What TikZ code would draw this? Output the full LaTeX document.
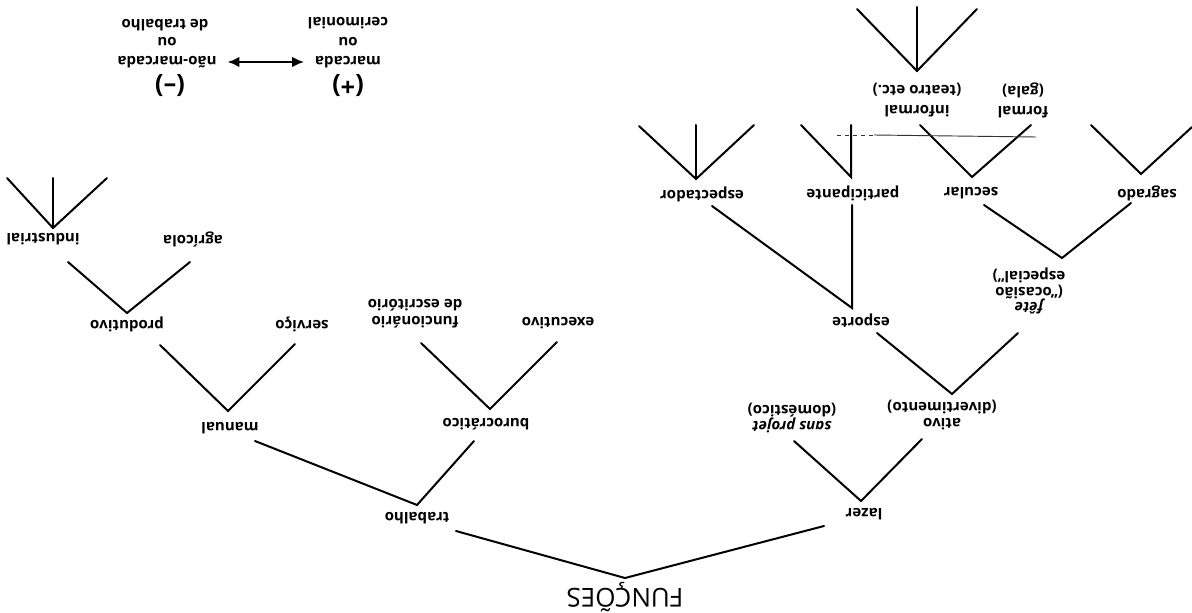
\documentclass[tikz,border=0pt]{standalone}
\usepackage{fontspec}
\setmainfont{Open Sans}
\usetikzlibrary{arrows.meta}
\begin{document}
\begin{tikzpicture}[x=0.75pt,y=-0.75pt,
  lbl/.style={rotate=180,inner sep=1pt,align=center,font=\fontsize{11.3}{11.5}\selectfont\bfseries},
  lblwide/.style={lbl,font=\fontsize{11.3}{15}\selectfont\bfseries},
  title/.style={rotate=180,inner sep=1pt,font=\fontsize{19.5}{22}\selectfont},
  sign/.style={rotate=180,inner sep=1pt,font=\fontsize{19}{21}\selectfont\bfseries},
  br/.style={line width=1.5pt,line cap=round,line join=miter},
  faint/.style={line width=0.7pt,black!80},
]
\useasboundingbox (0,0) rectangle (1192,613);

% ---------- labels ----------
\node[title] (funcoes) at (625,597) {FUNÇÕES};
\node[lbl] (trabalho) at (417,518) {trabalho};
\node[lbl] (lazer) at (864,514) {lazer};
\node[lbl] (manual) at (230,428) {manual};
\node[lbl] (burocratico) at (486,424) {burocrático};
\node[lbl] (produtivo) at (127,324) {produtivo};
\node[lbl] (servico) at (302,324) {serviço};
\node[lbl,font=\fontsize{11.3}{13}\selectfont\bfseries] (funcionario) at (415,314) {funcionário\\de escritório};
\node[lbl] (executivo) at (558,323) {executivo};
\node[lbl] (agricola) at (193,239) {agrícola};
\node[lbl] (industrial) at (43,239) {industrial};
\node[lbl] (sansprojet) at (792,418) {\itshape sans projet\\(doméstico)};
\node[lbl] (ativo) at (942,415) {ativo\\(divertimento)};
\node[lbl] (esporte) at (861,321) {esporte};
\node[lbl] (fete) at (1029,291) {\itshape fête\\(“ocasião\\especial”)};
\node[lbl] (espectador) at (702,194) {espectador};
\node[lbl] (participante) at (853,193) {participante};
\node[lbl] (secular) at (971,193) {secular};
\node[lbl] (sagrado) at (1147,193) {sagrado};
\node[lblwide] (formal) at (1023,100) {formal\\(gala)};
\node[lblwide] (informal) at (917,100) {informal\\(teatro etc.)};

% ---------- legend ----------
\node[sign] (plus) at (348,86) {(+)};
\node[lbl] (marcada) at (348,62) {marcada};
\node[lbl] (ou1) at (348,42) {ou};
\node[lbl] (cerimonial) at (348,23) {cerimonial};
\node[sign] (minus) at (170,86) {(–)};
\node[lbl] (naomarcada) at (167,62) {não-marcada};
\node[lbl] (ou2) at (167,42) {ou};
\node[lbl] (detrabalho) at (165,25) {de trabalho};
\draw[line width=1.6pt,{Latex[length=9pt,width=8pt]}-{Latex[length=9pt,width=8pt]},
      shorten <=7pt, shorten >=7pt] (naomarcada) -- (marcada);

% ---------- branch points ----------
\coordinate (vF) at (625,578);
\coordinate (tFa) at (456,531); \coordinate (tFb) at (824,526);
\coordinate (vT) at (417,505);
\coordinate (tTa) at (255,441); \coordinate (tTb) at (474,441);
\coordinate (vM) at (228,411);
\coordinate (tMa) at (160,345); \coordinate (tMb) at (295,344);
\coordinate (vB) at (490,409);
\coordinate (tBa) at (421,343); \coordinate (tBb) at (557,342);
\coordinate (vP) at (127,313);
\coordinate (tPa) at (68,262); \coordinate (tPb) at (190,262);
\coordinate (vI) at (53,228);
\coordinate (tIa) at (7,178); \coordinate (tIb) at (53,178); \coordinate (tIc) at (107,178);
\coordinate (vL) at (861,501);
\coordinate (tLa) at (794,441); \coordinate (tLb) at (922,439);
\coordinate (vA) at (952,394);
\coordinate (tAa) at (877,333); \coordinate (tAb) at (1018,333);
\coordinate (vE) at (852,308);
\coordinate (tEa) at (712,206); \coordinate (tEb) at (852,205);
\coordinate (vFe) at (1062,258);
\coordinate (tFea) at (984,205); \coordinate (tFeb) at (1131,203);
\coordinate (vEs) at (696,179);
\coordinate (tEsa) at (639,126); \coordinate (tEsb) at (696,125); \coordinate (tEsc) at (754,125);
\coordinate (vPa) at (851,177);
\coordinate (tPaa) at (801,125); \coordinate (tPab) at (851,125);
\coordinate (vS) at (972,177);
\coordinate (tSa) at (920,125); \coordinate (tSb) at (1031,125);
\coordinate (vSa) at (1141,174);
\coordinate (tSaa) at (1091,125); \coordinate (tSab) at (1192,127);
\coordinate (vIn) at (917,71);
\coordinate (tIna) at (857,9); \coordinate (tInb) at (917,7); \coordinate (tInc) at (977,9);

% ---------- branches ----------
\draw[br] (tFa) -- (vF) -- (tFb);
\draw[br] (tTa) -- (vT) -- (tTb);
\draw[br] (tMa) -- (vM) -- (tMb);
\draw[br] (tBa) -- (vB) -- (tBb);
\draw[br] (tPa) -- (vP) -- (tPb);
\draw[br] (tIa) -- (vI) -- (tIc); \draw[br] (vI) -- (tIb);
\draw[br] (tLa) -- (vL) -- (tLb);
\draw[br] (tAa) -- (vA) -- (tAb);
\draw[br] (tEa) -- (vE) -- (tEb);
\draw[br] (tFea) -- (vFe) -- (tFeb);
\draw[br] (tEsa) -- (vEs) -- (tEsc); \draw[br] (vEs) -- (tEsb);
\draw[br] (tPaa) -- (vPa) -- (tPab);
\draw[br] (tSa) -- (vS) -- (tSb);
\draw[br] (tSaa) -- (vSa) -- (tSab);
\draw[br] (tIna) -- (vIn) -- (tInc); \draw[br] (vIn) -- (tInb);

% thin horizontal stroke across the upper right
\coordinate (hA) at (837,135); \coordinate (hB) at (874,135); \coordinate (hC) at (1036,137);
\draw[faint,dashed] (hA) -- (hB);
\draw[faint] (hB) -- (hC);
\end{tikzpicture}
\end{document}
